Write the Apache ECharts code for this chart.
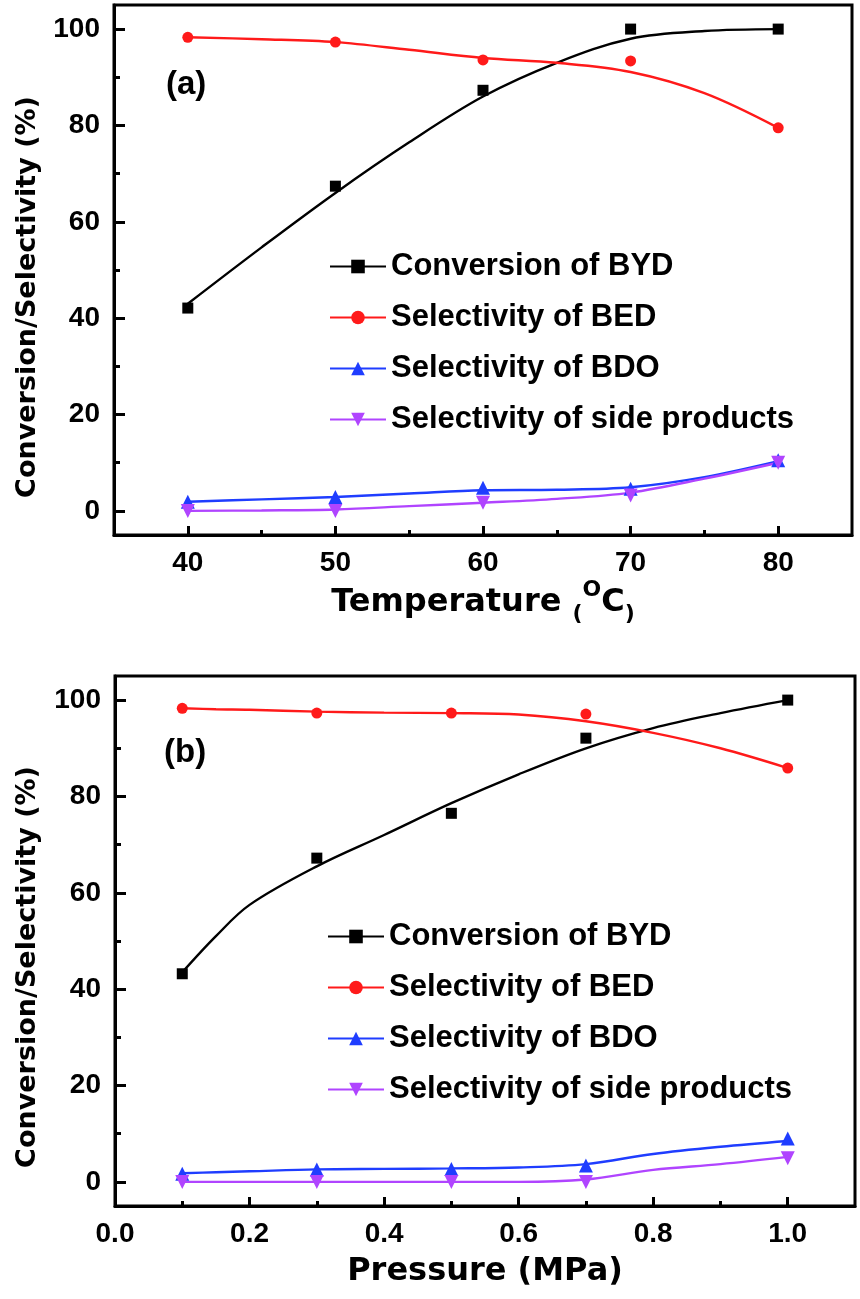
<!DOCTYPE html>
<html>
<head>
<meta charset="utf-8">
<script src="https://cdn.jsdelivr.net/npm/echarts@6/dist/echarts.min.js"></script>
<style>
html,body{margin:0;padding:0;background:#fff;}
#chart{width:860px;height:1299px;}
</style>
</head>
<body>
<div id="chart"></div>
<script>
// ---------- Panel (a): Temperature ----------
const tempX = [40, 50, 60, 70, 80];
const bydA  = [42.1, 67.4, 87.3, 100, 100];
const bedA  = [98.3, 97.3, 93.6, 93.4, 79.5];
const bdoA  = [1.9, 2.9, 4.8, 4.6, 10.5];
const sideA = [0, 0, 1.7, 3.2, 10];
// fitted curves
const tempFitX  = [40, 45, 50, 55, 60, 65, 70, 75, 80];
const bydFitA   = [43, 54.7, 66, 76.5, 86, 93, 98, 99.6, 100];
const bedFitA   = [98.3, 97.9, 97.3, 95.7, 94, 93, 91.1, 86.7, 79.5];
const bdoFitA   = [1.9, 2.4, 2.9, 3.6, 4.3, 4.4, 4.9, 7, 10.3];
const sideFitA  = [0, 0.1, 0.3, 1, 1.7, 2.5, 3.8, 6.7, 10];
const tempLabels = [40, 50, 60, 70, 80];
const tempMinor  = [45, 55, 65, 75];

// ---------- Panel (b): Pressure ----------
const presX = [0.1, 0.3, 0.5, 0.7, 1.0];
const bydB  = [43.2, 67.2, 76.5, 92.1, 100];
const bedB  = [98.3, 97.3, 97.3, 97.1, 85.9];
const bdoB  = [1.7, 2.6, 2.7, 3.4, 9];
const sideB = [0, 0, 0, 0, 4.9];
const presFitX = [0.1, 0.15, 0.2, 0.3, 0.4, 0.5, 0.6, 0.7, 0.8, 0.9, 1.0];
const bydFitB  = [43.5, 51, 57.5, 65.5, 72, 78.6, 84.6, 90, 94.2, 97.3, 100];
const bedFitB  = [98.3, 98.1, 98, 97.6, 97.4, 97.3, 97, 95.6, 93.2, 90, 85.9];
const bdoFitB  = [1.8, 2.0, 2.2, 2.6, 2.7, 2.8, 3.0, 3.7, 5.8, 7.3, 8.5];
const sideFitB = [0, 0, 0, 0, 0, 0, 0, 0.5, 2.5, 3.7, 5.2];
const presLabels = [0, 0.2, 0.4, 0.6, 0.8, 1.0];
const presMinor  = [0.1, 0.3, 0.5, 0.7, 0.9];

const yLabels = [0, 20, 40, 60, 80, 100];
const yMinor  = [10, 30, 50, 70, 90];

const names = ['Conversion of BYD', 'Selectivity of BED', 'Selectivity of BDO', 'Selectivity of side products'];
const colors = ['#000000', '#ff1a1a', '#1f3dff', '#b044ff'];
const symbols = ['rect', 'circle', 'triangle', 'triangle'];
const symRot = [0, 0, 0, 180];
const symSizes = [11, 11, 14, 14];

const pair = (xs, ys) => xs.map((x, i) => [x, ys[i]]);

const tickFont = {fontFamily: 'Liberation Sans, Arial, sans-serif', fontWeight: 'bold', fontSize: 28, color: '#000'};

function mainX(grid, min, max, interval, labels, fmt, name, nameGap, rich) {
  return {
    gridIndex: grid, type: 'value', min: min, max: max, interval: interval, position: 'bottom',
    axisLine: {show: true, onZero: false, lineStyle: {color: '#000', width: 3}},
    axisTick: {show: true, inside: true, length: 9, lineStyle: {color: '#000', width: 3}, customValues: labels},
    axisLabel: Object.assign({show: true, margin: 14, customValues: labels, formatter: fmt}, tickFont),
    splitLine: {show: false},
    name: name, nameLocation: 'middle', nameGap: nameGap,
    nameTextStyle: {fontFamily: 'DejaVu Sans, sans-serif', fontWeight: 'bold', fontSize: 32, color: '#000', rich: rich}
  };
}
function minorX(grid, min, max, interval, minors) {
  return {
    gridIndex: grid, type: 'value', min: min, max: max, interval: interval, position: 'bottom',
    axisLine: {show: false, onZero: false},
    axisTick: {show: true, inside: true, length: 5, lineStyle: {color: '#000', width: 3}, customValues: minors},
    axisLabel: {show: false}, splitLine: {show: false}
  };
}
function mainY(grid) {
  return {
    gridIndex: grid, type: 'value', min: -5, max: 105, interval: 5, position: 'left',
    axisLine: {show: true, onZero: false, lineStyle: {color: '#000', width: 3}},
    axisTick: {show: true, inside: true, length: 11, lineStyle: {color: '#000', width: 3}, customValues: yLabels},
    axisLabel: Object.assign({show: true, margin: 14, customValues: yLabels}, tickFont),
    splitLine: {show: false}
  };
}
function minorY(grid) {
  return {
    gridIndex: grid, type: 'value', min: -5, max: 105, interval: 5, position: 'left',
    axisLine: {show: false, onZero: false},
    axisTick: {show: true, inside: true, length: 6, lineStyle: {color: '#000', width: 3}, customValues: yMinor},
    axisLabel: {show: false}, splitLine: {show: false}
  };
}

function seriesFor(xi, yi, fitX, fits, ptX, pts, tag) {
  const out = [];
  for (let k = 0; k < 4; k++) {
    out.push({
      name: names[k], type: 'line', xAxisIndex: xi, yAxisIndex: yi,
      data: pair(fitX, fits[k]), smooth: 0.35, showSymbol: false,
      symbol: symbols[k], symbolRotate: symRot[k], symbolSize: symSizes[k],
      lineStyle: {color: colors[k], width: 2.4}, itemStyle: {color: colors[k], opacity: 1},
      z: 2
    });
  }
  for (let k = 0; k < 4; k++) {
    out.push({
      name: names[k] + ' points ' + tag, type: 'scatter', xAxisIndex: xi, yAxisIndex: yi,
      data: pair(ptX, pts[k]), symbol: symbols[k], symbolRotate: symRot[k], symbolSize: symSizes[k],
      itemStyle: {color: colors[k], opacity: 1}, z: 3
    });
  }
  return out;
}

const legendCommon = {
  orient: 'vertical', itemWidth: 56, itemHeight: 17, itemGap: 20, data: names,
  textStyle: {fontFamily: 'Liberation Sans, Arial, sans-serif', fontWeight: 'bold', fontSize: 31, color: '#000', lineHeight: 31},
  selectedMode: false
};

const chart = echarts.init(document.getElementById('chart'), null, {renderer: 'canvas'});
const option = {
  animation: false,
  backgroundColor: '#fff',
  grid: [
    {left: 114, right: 8, top: 5, bottom: 764, show: true, borderColor: '#000', borderWidth: 3, containLabel: false},
    {left: 115, right: 5, top: 676, bottom: 93, show: true, borderColor: '#000', borderWidth: 3, containLabel: false}
  ],
  xAxis: [
    mainX(0, 35, 85, 5, tempLabels, v => String(v), 'Temperature {p|(}{s|O}C{p|)}', 52,
      {p: {fontFamily: 'DejaVu Sans, sans-serif', fontWeight: 'bold', fontSize: 22, color: '#000', verticalAlign: 'bottom', padding: [0, 0, -6, 0]},
       s: {fontFamily: 'DejaVu Sans, sans-serif', fontWeight: 'bold', fontSize: 22, color: '#000', verticalAlign: 'top', padding: [-8, 0, 0, 0]}}),
    minorX(0, 35, 85, 5, tempMinor),
    mainX(1, 0, 1.1, 0.1, presLabels, v => v.toFixed(1), 'Pressure (MPa)', 50, {}),
    minorX(1, 0, 1.1, 0.1, presMinor)
  ],
  yAxis: [mainY(0), minorY(0), mainY(1), minorY(1)],
  legend: [
    Object.assign({left: 324, top: 246}, legendCommon),
    Object.assign({left: 322, top: 916}, legendCommon)
  ],
  graphic: [
    {type: 'text', x: 28, y: 297, rotation: Math.PI / 2,
     style: {text: 'Conversion/Selectivity (%)', fontFamily: 'DejaVu Sans, sans-serif', fontWeight: 'bold', fontSize: 27, fill: '#000', align: 'center', verticalAlign: 'middle'}},
    {type: 'text', x: 28, y: 967, rotation: Math.PI / 2,
     style: {text: 'Conversion/Selectivity (%)', fontFamily: 'DejaVu Sans, sans-serif', fontWeight: 'bold', fontSize: 27, fill: '#000', align: 'center', verticalAlign: 'middle'}},
    {type: 'text', x: 166, y: 85,
     style: {text: '(a)', fontFamily: 'Liberation Sans, Arial, sans-serif', fontWeight: 'bold', fontSize: 33, fill: '#000', align: 'left', verticalAlign: 'middle'}},
    {type: 'text', x: 164, y: 753,
     style: {text: '(b)', fontFamily: 'Liberation Sans, Arial, sans-serif', fontWeight: 'bold', fontSize: 33, fill: '#000', align: 'left', verticalAlign: 'middle'}}
  ],
  series: [].concat(
    seriesFor(0, 0, tempFitX, [bydFitA, bedFitA, bdoFitA, sideFitA], tempX, [bydA, bedA, bdoA, sideA], 'a'),
    seriesFor(2, 2, presFitX, [bydFitB, bedFitB, bdoFitB, sideFitB], presX, [bydB, bedB, bdoB, sideB], 'b')
  )
};
chart.setOption(option);
</script>
</body>
</html>
